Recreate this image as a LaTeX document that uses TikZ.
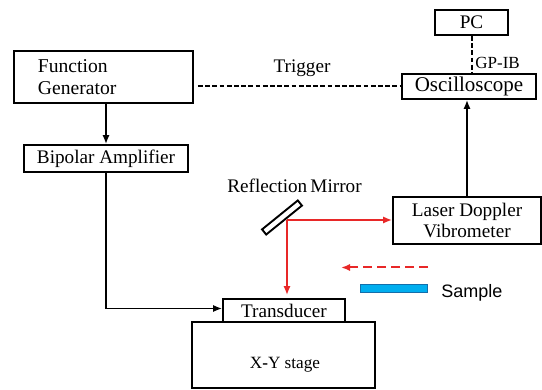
\documentclass[tikz,border=0pt]{standalone}
\usepackage{fontspec}
\setmainfont{Liberation Serif}
\newfontfamily\labelsans{Liberation Sans}
\usetikzlibrary{arrows.meta}
\definecolor{beamred}{RGB}{232,40,40}
\definecolor{samplefill}{RGB}{0,174,239}
\definecolor{sampleedge}{RGB}{20,110,170}
\begin{document}
\begin{tikzpicture}[x=0.5pt,y=-0.5pt,
  box/.style={draw, line width=0.95pt, inner sep=0pt, font=\fontsize{9.6}{11}\selectfont},
  txt/.style={inner sep=0pt, font=\fontsize{9.6}{11}\selectfont},
  tip/.style={-{Latex[length=4.5pt,width=3.6pt]}},
  wire/.style={line width=0.8pt},
  dashwire/.style={line width=1pt, dash pattern=on 2.4pt off 1.2pt},
  beam/.style={draw=beamred, line width=0.8pt, -{Latex[length=4.5pt,width=3.6pt]}}]
\useasboundingbox (0,0) rectangle (542,390);

% instrument boxes
\node[box, minimum width=89.5pt, minimum height=26pt, text width=65.5pt, inner xsep=12pt,
      align=left, font=\fontsize{9.8}{11.3}\selectfont] (FG) at (103.5,77) {Function\\Generator};
\node[box, minimum width=82pt, minimum height=13.5pt] (BA) at (106,158.5) {Bipolar Amplifier};
\node[box, minimum width=36.5pt, minimum height=12.5pt] (PC) at (471.5,22.5) {PC};
\node[box, minimum width=67pt, minimum height=12.5pt, font=\fontsize{10.5}{12}\selectfont] (OS) at (469,86.5) {Oscilloscope};
\node[box, minimum width=74pt, minimum height=23.5pt, align=center,
      font=\fontsize{9.6}{10.8}\selectfont] (LD) at (467,220.5) {Laser Doppler\\Vibrometer};
\node[box, minimum width=61pt, minimum height=11.5pt] (TR) at (284,310.5) {Transducer};
\node[box, minimum width=91.5pt, minimum height=33pt] (XY) at (283.5,355) {};
\node[txt, font=\fontsize{8.6}{10}\selectfont] (XYlabel) at (285,365) {X\textbf{-}Y stage};

% mirror and sample
\node[draw, line width=0.95pt, minimum width=23pt, minimum height=3.3pt, inner sep=0pt,
      rotate=39] (MR) at (282,217.5) {};
\node[txt] (MRlabel) at (294.5,186) {Reflection\,Mirror};
\node[draw=sampleedge, fill=samplefill, line width=0.3pt, minimum width=33.5pt,
      minimum height=4pt, inner sep=0pt] (SA) at (393.5,288) {};
\node[txt, anchor=west, font=\labelsans\fontsize{9}{10}\selectfont] (SAlabel) at (441,293) {Sample};

% labels on signal lines
\node[txt] (TGlabel) at (302,68) {Trigger};
\node[txt, anchor=west, font=\fontsize{8.5}{10}\selectfont] (GPlabel) at (475,63) {GP-IB};

% signal lines
\draw[wire, tip] (BA.north |- FG.south) -- (BA.north);
\draw[wire, tip] (BA.south) |- ([yshift=1pt]TR.west);
\draw[wire, tip] (LD.north) -- (LD.north |- OS.south);
\draw[dashwire] ([xshift=2pt]FG.east |- OS.west) -- (OS.west);
\draw[dashwire] (PC.south) -- (PC.south |- OS.north);

% laser beams
\coordinate (hit) at (287,220);
\draw[beam] (hit) -- (hit -| LD.west);
\draw[beam] (hit) -- ([yshift=1.5pt]hit |- TR.north);
\coordinate (scanA) at (428,267.5);
\coordinate (scanB) at (341,267.5);
\draw[beam, line width=1pt, dash pattern=on 4.5pt off 2.5pt] (scanA) -- (scanB);
\end{tikzpicture}
\end{document}
